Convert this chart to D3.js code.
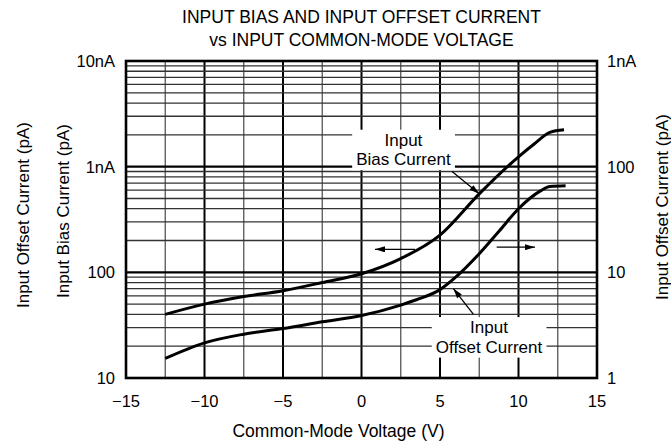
<!DOCTYPE html>
<html>
<head>
  <meta charset="utf-8">
  <script src="https://d3js.org/d3.v7.min.js"></script>
  <style>
    body{ margin: 0; background: #ffffff; }
    text{
      font-family: Arial, "Liberation Sans", sans-serif;
      font-size: 17px;
      fill: #000000;
    }
    text.title{ font-size: 17.5px; }
    text.tickLabel{ font-size: 16.5px; }
    text.axisTitle{ font-size: 17px; }
    text.xTitle{ font-size: 17.5px; }
  </style>
</head>
<body>
<script>

  // bias current curve (left axis, pA)
  var biasVolts = [-12.5, -10, -7.5, -5, -2.5, 0, 2.5, 5, 7.5, 10, 11, 12, 12.9];
  var biasCurrent = [40, 50, 59, 67, 80, 97, 135, 225, 553, 1240, 1640, 2110, 2230];

  // offset current curve (right axis, pA)
  var offsetVolts = [-12.5, -10, -7.5, -5, -2.5, 0, 2.5, 3.5, 5, 6, 7.5, 8.8, 10, 11.4, 12, 13];
  var offsetCurrent = [1.53, 2.15, 2.6, 2.94, 3.4, 3.9, 4.9, 5.5, 6.86, 9.0, 15, 24.9, 40, 59, 65, 66];

  var xTicks = [-15, -10, -5, 0, 5, 10, 15];
  var xTickLabels = ['\u221215', '\u221210', '\u22125', '0', '5', '10', '15'];
  var leftTicks = [10, 100, 1000, 10000];
  var leftTickLabels = ['10', '100', '1nA', '10nA'];
  var rightTicks = [1, 10, 100, 1000];
  var rightTickLabels = ['1', '10', '100', '1nA'];

  var width = 671, height = 442;
  var margin = {top: 61, right: 74, bottom: 64, left: 126};

  var svg = d3.select('body').append('svg')
    .attr('width', width)
    .attr('height', height);

  var x = d3.scaleLinear().domain([-15, 15]).range([margin.left, width - margin.right]);
  var y = d3.scaleLog().domain([10, 10000]).range([height - margin.bottom, margin.top]);
  var yR = d3.scaleLog().domain([1, 1000]).range([height - margin.bottom, margin.top]);

  var x0 = x.range()[0], x1 = x.range()[1];
  var yTop = y.range()[1], yBot = y.range()[0];

  // ---- grid
  var vGrid = d3.range(-12.5, 15, 2.5);
  svg.append('g').selectAll('line')
    .data(vGrid)
    .enter().append('line')
    .attr('x1', d => x(d)).attr('x2', d => x(d))
    .attr('y1', yTop).attr('y2', yBot)
    .attr('stroke', d => d % 5 == 0 ? '#000' : '#555')
    .attr('stroke-width', d => d % 5 == 0 ? 2 : 1.3);

  var hMinor = [];
  [10, 100, 1000].forEach(function(dec){
    for (var k = 2; k <= 9; k++) hMinor.push(dec * k);
  });
  svg.append('g').selectAll('line')
    .data(hMinor)
    .enter().append('line')
    .attr('x1', x0).attr('x2', x1)
    .attr('y1', d => y(d)).attr('y2', d => y(d))
    .attr('stroke', '#333')
    .attr('stroke-width', 1.3);

  svg.append('g').selectAll('line')
    .data([100, 1000])
    .enter().append('line')
    .attr('x1', x0).attr('x2', x1)
    .attr('y1', d => y(d)).attr('y2', d => y(d))
    .attr('stroke', '#000')
    .attr('stroke-width', 2.2);

  // ---- label boxes (white, mask the grid)
  var labels = [
    {lines: ['Input', 'Bias Current'], v: 2.67, i: 1578},
    {lines: ['Input', 'Offset Current'], v: 8.12, i: 26.6}
  ];
  var labelG = svg.append('g');
  labels.forEach(function(l){
    var g = labelG.append('g');
    var rect = g.append('rect').attr('fill', '#fff');
    var t = g.append('text')
      .attr('text-anchor', 'middle');
    l.lines.forEach(function(s, j){
      t.append('tspan')
        .attr('x', x(l.v))
        .attr('y', y(l.i) + j * 19.5)
        .text(s);
    });
    var bb = t.node().getBBox();
    rect.attr('x', bb.x - 4).attr('y', bb.y - 1)
      .attr('width', bb.width + 8).attr('height', bb.height + 2);
  });

  // ---- frame
  svg.append('rect')
    .attr('x', x0).attr('y', yTop)
    .attr('width', x1 - x0).attr('height', yBot - yTop)
    .attr('fill', 'none')
    .attr('stroke', '#000')
    .attr('stroke-width', 2.6);

  // ---- curves
  var biasLine = d3.line()
    .x(d => x(d[0])).y(d => y(d[1]))
    .curve(d3.curveMonotoneX);
  var offsetLine = d3.line()
    .x(d => x(d[0])).y(d => yR(d[1]))
    .curve(d3.curveMonotoneX);

  svg.append('path')
    .datum(biasVolts.map((v, i) => [v, biasCurrent[i]]))
    .attr('d', biasLine)
    .attr('fill', 'none')
    .attr('stroke', '#000')
    .attr('stroke-width', 3);

  svg.append('path')
    .datum(offsetVolts.map((v, i) => [v, offsetCurrent[i]]))
    .attr('d', offsetLine)
    .attr('fill', 'none')
    .attr('stroke', '#000')
    .attr('stroke-width', 3);

  // ---- arrows
  svg.append('defs').append('marker')
    .attr('id', 'head')
    .attr('viewBox', '0 0 10 6')
    .attr('refX', 10).attr('refY', 3)
    .attr('markerWidth', 11).attr('markerHeight', 6)
    .attr('markerUnits', 'userSpaceOnUse')
    .attr('orient', 'auto')
    .append('path')
    .attr('d', 'M0,0L10,3L0,6Z')
    .attr('fill', '#000');

  // [from V, from pA(left scale), to V, to pA(left scale)]
  var arrows = [
    [3.41, 165, 0.86, 165],
    [8.61, 173, 11.05, 173],
    [5.75, 903, 7.5, 553],
    [7.12, 40.2, 5.85, 70.2]
  ];
  svg.append('g').selectAll('line')
    .data(arrows)
    .enter().append('line')
    .attr('x1', d => x(d[0])).attr('y1', d => y(d[1]))
    .attr('x2', d => x(d[2])).attr('y2', d => y(d[3]))
    .attr('stroke', '#000')
    .attr('stroke-width', 1.3)
    .attr('marker-end', 'url(#head)');

  // ---- tick labels
  svg.append('g').selectAll('text')
    .data(xTicks)
    .enter().append('text')
    .attr('class', 'tickLabel')
    .attr('x', d => x(d))
    .attr('y', yBot + 29)
    .attr('text-anchor', 'middle')
    .text((d, i) => xTickLabels[i]);

  svg.append('g').selectAll('text')
    .data(leftTicks)
    .enter().append('text')
    .attr('class', 'tickLabel')
    .attr('x', x0 - 11)
    .attr('y', d => y(d) + 6)
    .attr('text-anchor', 'end')
    .text((d, i) => leftTickLabels[i]);

  svg.append('g').selectAll('text')
    .data(rightTicks)
    .enter().append('text')
    .attr('class', 'tickLabel')
    .attr('x', x1 + 10)
    .attr('y', d => yR(d) + 6)
    .text((d, i) => rightTickLabels[i]);

  // ---- titles
  svg.append('text')
    .attr('class', 'title')
    .attr('x', (x0 + x1) / 2).attr('y', 23)
    .attr('text-anchor', 'middle')
    .text('INPUT BIAS AND INPUT OFFSET CURRENT');
  svg.append('text')
    .attr('class', 'title')
    .attr('x', (x0 + x1) / 2).attr('y', 46)
    .attr('text-anchor', 'middle')
    .text('vs INPUT COMMON-MODE VOLTAGE');

  svg.append('text')
    .attr('class', 'xTitle')
    .attr('x', (x0 + x1) / 2 - 23).attr('y', 437)
    .attr('text-anchor', 'middle')
    .text('Common-Mode Voltage (V)');

  svg.append('text')
    .attr('class', 'axisTitle')
    .attr('transform', 'translate(29,215) rotate(-90)')
    .attr('text-anchor', 'middle')
    .text('Input Offset Current (pA)');
  svg.append('text')
    .attr('class', 'axisTitle')
    .attr('transform', 'translate(69,211) rotate(-90)')
    .attr('text-anchor', 'middle')
    .text('Input Bias Current (pA)');
  svg.append('text')
    .attr('class', 'axisTitle')
    .attr('transform', 'translate(668,207) rotate(-90)')
    .attr('text-anchor', 'middle')
    .text('Input Offset Current (pA)');

</script>
</body>
</html>
